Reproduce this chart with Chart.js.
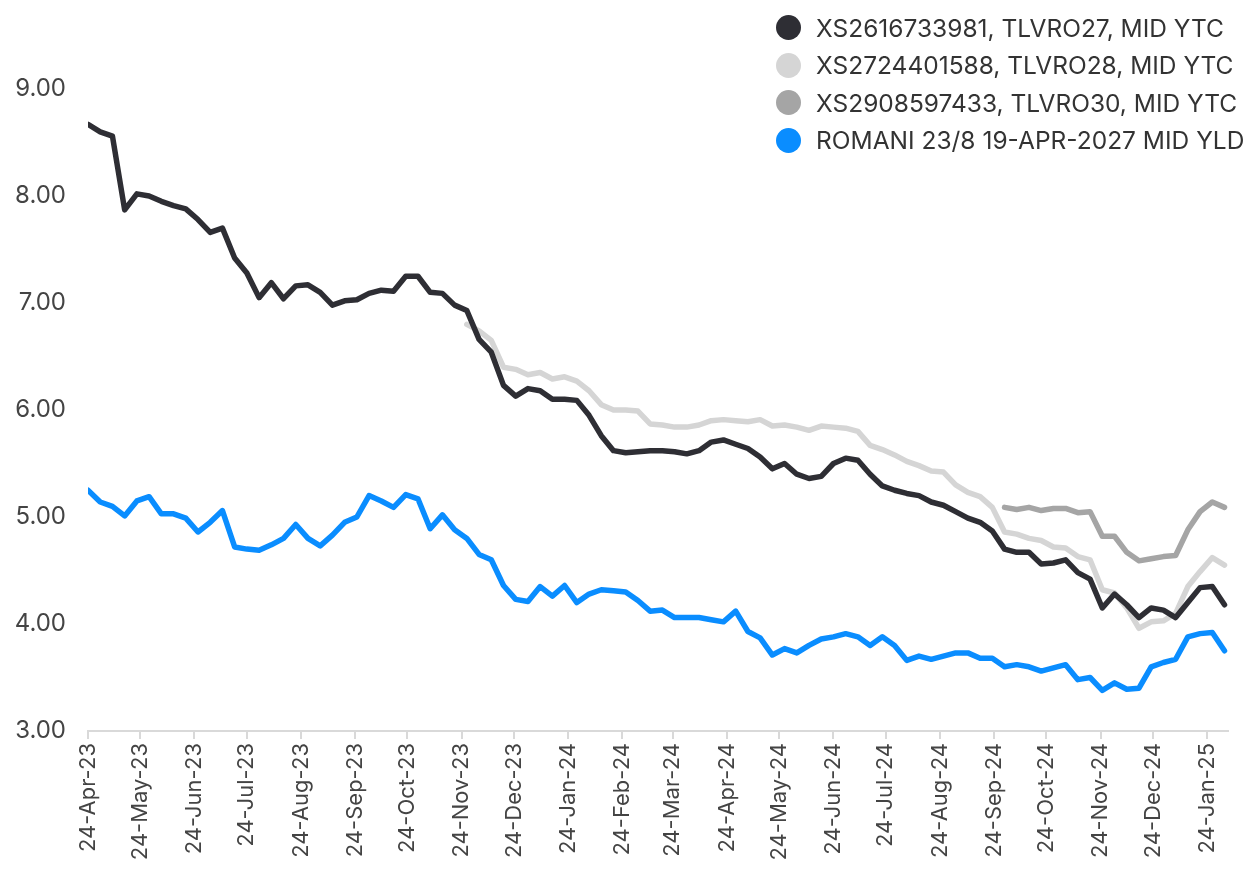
<!DOCTYPE html>
<html>
<head>
<meta charset="utf-8">
<script src="https://cdn.jsdelivr.net/npm/chart.js@4.4.1/dist/chart.umd.min.js"></script>
<style>
  body { margin: 0; background: #fff; font-family: Inter, "Noto Sans", sans-serif; }
  #wrap { position: relative; width: 1244px; height: 876px; }
  #legend { position: absolute; left: 776px; top: 9px; list-style: none; margin: 0; padding: 0; }
  #legend li { height: 37.5px; display: flex; align-items: center; font-size: 24.5px; color: #333; white-space: nowrap; }
  #legend span.dot { width: 25px; height: 25px; border-radius: 50%; margin-right: 15px; flex: none; }
</style>
</head>
<body>
<div id="wrap">
  <canvas id="chart"></canvas>
  <ul id="legend"></ul>
</div>
<script>
// weekly observation dates
const weeks = [
  '2023-04-24','2023-05-01','2023-05-08','2023-05-15','2023-05-22','2023-05-29','2023-06-05','2023-06-12','2023-06-19','2023-06-26',
  '2023-07-03','2023-07-10','2023-07-17','2023-07-24','2023-07-31','2023-08-07','2023-08-14','2023-08-21','2023-08-28','2023-09-04',
  '2023-09-11','2023-09-18','2023-09-25','2023-10-02','2023-10-09','2023-10-16','2023-10-23','2023-10-30','2023-11-06','2023-11-13',
  '2023-11-20','2023-11-27','2023-12-04','2023-12-11','2023-12-18','2023-12-25','2024-01-01','2024-01-08','2024-01-15','2024-01-22',
  '2024-01-29','2024-02-05','2024-02-12','2024-02-19','2024-02-26','2024-03-04','2024-03-11','2024-03-18','2024-03-25','2024-04-01',
  '2024-04-08','2024-04-15','2024-04-22','2024-04-29','2024-05-06','2024-05-13','2024-05-20','2024-05-27','2024-06-03','2024-06-10',
  '2024-06-17','2024-06-24','2024-07-01','2024-07-08','2024-07-15','2024-07-22','2024-07-29','2024-08-05','2024-08-12','2024-08-19',
  '2024-08-26','2024-09-02','2024-09-09','2024-09-16','2024-09-23','2024-09-30','2024-10-07','2024-10-14','2024-10-21','2024-10-28',
  '2024-11-04','2024-11-11','2024-11-18','2024-11-25','2024-12-02','2024-12-09','2024-12-16','2024-12-23','2024-12-30','2025-01-06',
  '2025-01-13','2025-01-20','2025-01-27','2025-02-03'
];

const seriesNames = [
  'XS2616733981, TLVRO27, MID YTC',
  'XS2724401588, TLVRO28, MID YTC',
  'XS2908597433, TLVRO30, MID YTC',
  'ROMANI 23/8 19-APR-2027 MID YLD'
];

const tlvro27 = [
  8.67, 8.60, 8.56, 7.87, 8.02, 8.00, 7.95, 7.91, 7.88, 7.78,
  7.66, 7.70, 7.42, 7.28, 7.05, 7.19, 7.04, 7.16, 7.17, 7.10,
  6.98, 7.02, 7.03, 7.09, 7.12, 7.11, 7.25, 7.25, 7.10, 7.09,
  6.98, 6.93, 6.66, 6.54, 6.23, 6.13, 6.20, 6.18, 6.10, 6.10,
  6.09, 5.95, 5.76, 5.62, 5.60, 5.61, 5.62, 5.62, 5.61, 5.59,
  5.62, 5.70, 5.72, 5.68, 5.64, 5.56, 5.45, 5.50, 5.40, 5.36,
  5.38, 5.50, 5.55, 5.53, 5.40, 5.29, 5.25, 5.22, 5.20, 5.14,
  5.11, 5.05, 4.99, 4.95, 4.87, 4.70, 4.67, 4.67, 4.56, 4.57,
  4.60, 4.48, 4.42, 4.15, 4.28, 4.18, 4.06, 4.15, 4.13, 4.06,
  4.20, 4.34, 4.35, 4.18
];

// TLVRO28 starts trading late Nov 2023 (31 empty weeks before)
const tlvro28 = Array(31).fill(null).concat([
  6.80, 6.74, 6.65, 6.40, 6.38, 6.33, 6.35, 6.29, 6.31, 6.27,
  6.18, 6.05, 6.00, 6.00, 5.99, 5.87, 5.86, 5.84, 5.84, 5.86,
  5.90, 5.91, 5.90, 5.89, 5.91, 5.85, 5.86, 5.84, 5.81, 5.85,
  5.84, 5.83, 5.80, 5.67, 5.63, 5.58, 5.52, 5.48, 5.43, 5.42,
  5.30, 5.23, 5.19, 5.09, 4.86, 4.84, 4.80, 4.78, 4.72, 4.71,
  4.63, 4.60, 4.32, 4.29, 4.15, 3.96, 4.02, 4.03, 4.10, 4.35,
  4.49, 4.62, 4.55
]);

// TLVRO30 starts end of Sep 2024 (75 empty weeks before)
const tlvro30 = Array(75).fill(null).concat([
  5.09, 5.07, 5.09, 5.06, 5.08, 5.08, 5.04, 5.05, 4.82, 4.82,
  4.67, 4.59, 4.61, 4.63, 4.64, 4.88, 5.05, 5.14, 5.09
]);

const romani27 = [
  5.25, 5.14, 5.10, 5.01, 5.15, 5.19, 5.03, 5.03, 4.99, 4.86,
  4.95, 5.06, 4.72, 4.70, 4.69, 4.74, 4.80, 4.93, 4.80, 4.73,
  4.83, 4.95, 5.00, 5.20, 5.15, 5.09, 5.21, 5.17, 4.89, 5.02,
  4.88, 4.80, 4.65, 4.60, 4.36, 4.23, 4.21, 4.35, 4.26, 4.36,
  4.20, 4.28, 4.32, 4.31, 4.30, 4.22, 4.12, 4.13, 4.06, 4.06,
  4.06, 4.04, 4.02, 4.12, 3.93, 3.87, 3.71, 3.77, 3.73, 3.80,
  3.86, 3.88, 3.91, 3.88, 3.80, 3.88, 3.80, 3.66, 3.70, 3.67,
  3.70, 3.73, 3.73, 3.68, 3.68, 3.60, 3.62, 3.60, 3.56, 3.59,
  3.62, 3.48, 3.50, 3.38, 3.45, 3.39, 3.40, 3.60, 3.64, 3.67,
  3.88, 3.91, 3.92, 3.75
];

// x axis ticks: the 24th of every month
const tickDates = [
  '2023-04-24','2023-05-24','2023-06-24','2023-07-24','2023-08-24','2023-09-24','2023-10-24','2023-11-24',
  '2023-12-24','2024-01-24','2024-02-24','2024-03-24','2024-04-24','2024-05-24','2024-06-24','2024-07-24',
  '2024-08-24','2024-09-24','2024-10-24','2024-11-24','2024-12-24','2025-01-24'
];
const tickLabels = [
  '24-Apr-23','24-May-23','24-Jun-23','24-Jul-23','24-Aug-23','24-Sep-23','24-Oct-23','24-Nov-23',
  '24-Dec-23','24-Jan-24','24-Feb-24','24-Mar-24','24-Apr-24','24-May-24','24-Jun-24','24-Jul-24',
  '24-Aug-24','24-Sep-24','24-Oct-24','24-Nov-24','24-Dec-24','24-Jan-25'
];
const yTicks = [3, 4, 5, 6, 7, 8, 9];

const colors = ['#2e2e34', '#d5d5d5', '#a5a5a5', '#0a8dff'];

// days since the first date, used as the linear x value
const start = Date.parse(weeks[0]);
function dayOf(d) { return (Date.parse(d) - start) / 86400000; }

function toPoints(values) {
  return weeks.map(function(d, i) { return { x: dayOf(d), y: values[i] }; });
}

const allSeries = [tlvro27, tlvro28, tlvro30, romani27];

const datasets = allSeries.map(function(vals, i) {
  return {
    label: seriesNames[i],
    data: toPoints(vals),
    borderColor: colors[i],
    backgroundColor: colors[i],
    borderWidth: 5.5,
    pointRadius: 0,
    tension: 0,
    borderJoinStyle: 'round',
    borderCapStyle: 'round',
    spanGaps: false
  };
});

// legend as plain html
const legend = document.getElementById('legend');
seriesNames.forEach(function(name, i) {
  const li = document.createElement('li');
  li.innerHTML = '<span class="dot" style="background:' + colors[i] + '"></span>' + name;
  legend.appendChild(li);
});

new Chart(document.getElementById('chart'), {
  type: 'line',
  data: { datasets: datasets },
  options: {
    responsive: true,
    maintainAspectRatio: false,
    animation: false,
    layout: { padding: { top: 35.5, right: 16, left: 0, bottom: 0 } },
    plugins: { legend: { display: false }, tooltip: { enabled: false } },
    scales: {
      x: {
        type: 'linear',
        min: 0,
        max: 653,
        afterBuildTicks: function(scale) {
          scale.ticks = tickDates.map(function(d) { return { value: dayOf(d) }; });
        },
        afterFit: function(scale) { scale.height = 145; },
        grid: { display: true, drawOnChartArea: false, drawTicks: true, tickLength: 8, color: '#d9d9d9', lineWidth: 2 },
        border: { display: true, color: '#d9d9d9', width: 2 },
        ticks: {
          autoSkip: false,
          maxRotation: 90,
          minRotation: 90,
          padding: 4,
          color: '#444',
          font: { family: 'Inter', size: 22 },
          callback: function(value, index) { return tickLabels[index]; }
        }
      },
      y: {
        min: 3,
        max: 9.5,
        afterBuildTicks: function(scale) {
          scale.ticks = yTicks.map(function(v) { return { value: v }; });
        },
        afterFit: function(scale) { scale.width = 88; },
        grid: { display: false },
        border: { display: false },
        ticks: {
          padding: 14,
          color: '#444',
          font: { family: 'Inter', size: 24 },
          callback: function(value) { return value.toFixed(2); }
        }
      }
    }
  }
});
</script>
</body>
</html>
